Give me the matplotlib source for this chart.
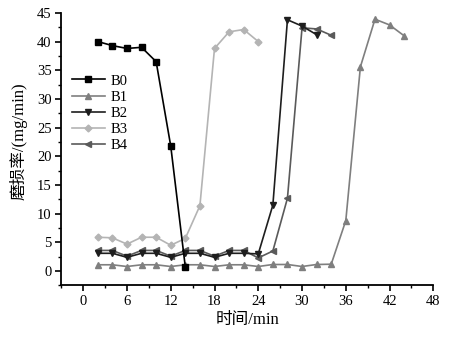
import matplotlib
matplotlib.use('Agg')
from matplotlib import pyplot as plt
from matplotlib.ticker import MultipleLocator

plt.rcParams['font.family'] = ['Liberation Serif', 'Noto Sans CJK SC']

t_b0 = [2, 4, 6, 8, 10, 12, 14]
b0 = [40.0, 39.3, 38.8, 39.0, 36.5, 21.8, 0.7]

t_b1 = [2, 4, 6, 8, 10, 12, 14, 16, 18, 20, 22, 24, 26, 28, 30, 32, 34, 36, 38, 40, 42, 44]
b1 = [1.1, 1.1, 0.8, 1.1, 1.1, 0.8, 1.1, 1.1, 0.8, 1.1, 1.1, 0.8, 1.15, 1.15, 0.8, 1.15, 1.2,
      8.8, 35.6, 43.9, 42.9, 41.0]

t_b2 = [2, 4, 6, 8, 10, 12, 14, 16, 18, 20, 22, 24, 26, 28, 30, 32]
b2 = [3.1, 3.1, 2.4, 3.1, 3.1, 2.4, 3.1, 3.1, 2.4, 3.1, 3.1, 3.0, 11.5, 43.8, 42.7, 41.2]

t_b3 = [2, 4, 6, 8, 10, 12, 14, 16, 18, 20, 22, 24]
b3 = [5.9, 5.8, 4.7, 5.9, 5.9, 4.5, 5.7, 11.4, 38.8, 41.7, 42.1, 40.0]

t_b4 = [2, 4, 6, 8, 10, 12, 14, 16, 18, 20, 22, 24, 26, 28, 30, 32, 34]
b4 = [3.6, 3.6, 2.6, 3.6, 3.6, 2.6, 3.6, 3.6, 2.6, 3.6, 3.6, 2.3, 3.5, 12.7, 42.4, 42.2, 41.1]

fig = plt.figure(figsize=(4.61, 3.39), dpi=100)
ax = fig.add_axes([0.133, 0.158, 0.807, 0.804])

ax.plot(t_b0, b0, color='#000000', marker='s', ms=4, lw=1.2, label='B0', zorder=6)
ax.plot(t_b1, b1, color='#7f7f7f', marker='^', ms=4.5, lw=1.2, label='B1', zorder=3)
ax.plot(t_b2, b2, color='#1e1e1e', marker='v', ms=4.5, lw=1.2, label='B2', zorder=5)
ax.plot(t_b3, b3, color='#b4b4b4', marker='D', ms=3.5, lw=1.2, label='B3', zorder=2)
ax.plot(t_b4, b4, color='#5a5a5a', marker='<', ms=4.5, lw=1.2, label='B4', zorder=4)

ax.set_xlim(-3, 48)
ax.set_ylim(-2.5, 45)
ax.xaxis.set_major_locator(MultipleLocator(6))
ax.xaxis.set_minor_locator(MultipleLocator(3))
ax.yaxis.set_major_locator(MultipleLocator(5))
ax.yaxis.set_minor_locator(MultipleLocator(2.5))
ax.tick_params(which='major', direction='out', length=4, width=1.2, labelsize=10.5, pad=3)
ax.tick_params(which='minor', direction='out', length=2, width=1)

ax.spines['top'].set_visible(False)
ax.spines['right'].set_visible(False)
ax.spines['left'].set_linewidth(1.3)
ax.spines['bottom'].set_linewidth(1.3)

ax.set_xlabel('时间/min', fontsize=12, labelpad=3)
ax.set_ylabel('磨损率/(mg/min)', fontsize=12)
ax.yaxis.set_label_coords(-0.09, 0.53)

ax.legend(loc='upper left', bbox_to_anchor=(0.0, 0.812), frameon=False, fontsize=10.5,
          handlelength=2.3, handletextpad=0.4, labelspacing=0.2, borderaxespad=0.3)

fig.savefig('out.png', dpi=100)
